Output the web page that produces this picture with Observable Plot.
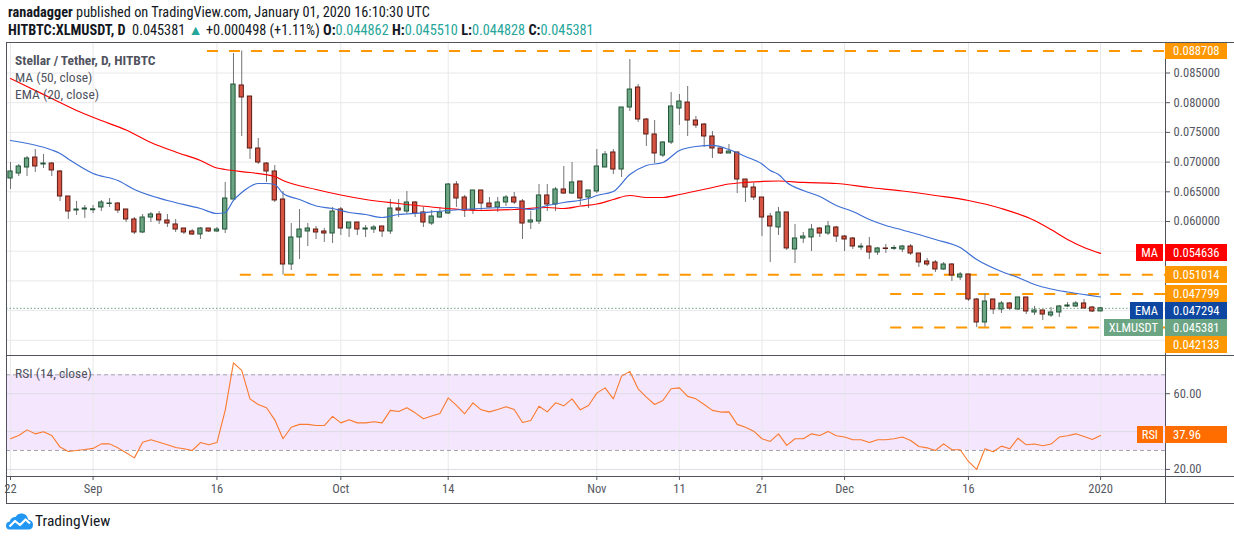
<!DOCTYPE html>
<html><head><meta charset="utf-8">
<script src="https://cdn.jsdelivr.net/npm/d3@7"></script>
<script src="https://cdn.jsdelivr.net/npm/@observablehq/plot@0.6"></script>
<style>
body{margin:0;background:#fff;}
#root{position:relative;width:1234px;height:540px;overflow:hidden;font-family:"Liberation Sans Narrow","Arial Narrow","Roboto Condensed","Liberation Sans",sans-serif;color:#131722;}
#root svg{position:absolute;left:0;}
.hdr{position:absolute;left:8px;font-size:14.3px;white-space:nowrap;line-height:16px;}
.hdr .v{color:#26a69a;}
.leg{position:absolute;left:15px;font-size:13.5px;color:#50535e;white-space:nowrap;line-height:16px;}
.vbox{position:absolute;left:1165px;width:62px;color:#fff;font-size:12.5px;box-sizing:border-box;padding-left:8px;white-space:nowrap;overflow:hidden;}
.nbox{position:absolute;right:71px;color:#fff;font-size:12.5px;padding:0 5px;white-space:nowrap;}
.fr{position:absolute;background:#50535e;}
</style></head><body><div id="root"></div>
<script>
const FONT = '"Liberation Sans Narrow","Arial Narrow","Roboto Condensed","Liberation Sans",sans-serif';

// ---- data ----
const firstDay = "2019-08-22", lastDay = "2020-01-01";
const opens = [0.06724,0.06808,0.06909,0.07077,0.06960,0.06976,0.06842,0.06421,0.06185,0.06202,
0.06190,0.06236,0.06295,0.06303,0.06202,0.06034,0.05815,0.06067,0.06118,0.06017,0.05950,0.05882,0.05832,0.05781,0.05882,0.05832,0.05865,0.06370,0.08290,0.08104,0.07229,0.06976,0.06842,0.06370,0.05276,0.05731,0.05832,0.05865,0.05832,0.05798,
0.06202,0.05882,0.05983,0.05865,0.05865,0.05916,0.05832,0.06219,0.06168,0.06320,0.06152,0.05966,0.06067,0.06135,0.06623,0.06404,0.06185,0.06522,0.06303,0.06236,0.06320,0.06404,0.06337,0.05983,0.06000,0.06438,0.06286,0.06539,0.06471,0.06673,0.06404,
0.06505,0.06909,0.07162,0.06875,0.07919,0.08256,0.07717,0.07465,0.07111,0.07330,0.07902,0.08003,0.07700,0.07633,0.07431,0.07229,0.07145,0.07162,0.06707,0.06572,0.06404,0.06084,0.05899,0.06152,0.05529,0.05714,0.05731,0.05882,0.05798,0.05899,
0.05747,0.05714,0.05562,0.05579,0.05478,0.05546,0.05540,0.05529,0.05579,0.05461,0.05327,0.05310,0.05192,0.05276,0.05057,0.05108,0.04687,0.04300,0.04687,0.04519,0.04620,0.04519,0.04721,0.04468,0.04502,0.04418,0.04468,0.04569,0.04569,0.04620,0.04552,
0.044862];
const highs = [0.06993,0.06960,0.07094,0.07212,0.07128,0.06993,0.06859,0.06421,0.06337,0.06269,
0.06269,0.06354,0.06387,0.06320,0.06202,0.06067,0.06118,0.06152,0.06168,0.06118,0.06034,0.05882,0.05865,0.05899,0.05882,0.05899,0.06657,0.08828,0.08871,0.08104,0.07397,0.06993,0.06943,0.06505,0.05966,0.06202,0.05966,0.05916,0.05882,0.06236,
0.06236,0.05983,0.05983,0.05933,0.05933,0.05916,0.06370,0.06370,0.06505,0.06337,0.06236,0.06185,0.06236,0.06640,0.06673,0.06438,0.06522,0.06522,0.06404,0.06404,0.06438,0.06488,0.06370,0.06168,0.06623,0.06623,0.06572,0.06926,0.06993,0.06673,0.06522,
0.07212,0.07178,0.07212,0.07919,0.08727,0.08306,0.07734,0.07700,0.07347,0.08172,0.08138,0.08273,0.07768,0.07650,0.07515,0.07229,0.07296,0.07162,0.06707,0.06640,0.06404,0.06135,0.06236,0.06152,0.05950,0.05815,0.05950,0.05899,0.06000,0.05916,
0.05764,0.05731,0.05630,0.05731,0.05562,0.05613,0.05596,0.05596,0.05613,0.05461,0.05377,0.05343,0.05310,0.05293,0.05141,0.05108,0.04704,0.04780,0.04687,0.04653,0.04636,0.04721,0.04721,0.04569,0.04502,0.04552,0.04586,0.04636,0.04653,0.04687,0.04569,
0.045510];
const lows = [0.06539,0.06758,0.06758,0.06825,0.06892,0.06758,0.06337,0.06034,0.06101,0.06051,
0.06135,0.06168,0.06236,0.06135,0.05983,0.05781,0.05798,0.05983,0.05950,0.05899,0.05815,0.05781,0.05764,0.05697,0.05815,0.05815,0.05798,0.06370,0.07431,0.07044,0.06960,0.06657,0.06320,0.05101,0.05175,0.05360,0.05579,0.05697,0.05647,0.05630,
0.05764,0.05731,0.05764,0.05731,0.05798,0.05731,0.05781,0.06067,0.06118,0.06067,0.05899,0.05933,0.06051,0.06118,0.06236,0.06067,0.06118,0.06168,0.06236,0.06152,0.06253,0.06286,0.05697,0.05865,0.05950,0.06168,0.06168,0.06455,0.06455,0.06269,0.06219,
0.06471,0.06909,0.06791,0.06741,0.07852,0.07667,0.07263,0.06976,0.07077,0.07296,0.07616,0.07431,0.07566,0.07246,0.07061,0.07128,0.07145,0.06471,0.06320,0.06354,0.05747,0.05310,0.05764,0.05512,0.05293,0.05630,0.05495,0.05731,0.05764,0.05647,
0.05495,0.05529,0.05512,0.05360,0.05428,0.05461,0.05512,0.05478,0.05428,0.05226,0.05242,0.05141,0.05175,0.04990,0.05007,0.04653,0.04213,0.04220,0.04434,0.04451,0.04502,0.04502,0.04434,0.04418,0.04333,0.04384,0.04384,0.04552,0.04552,0.04535,0.04468,
0.044828];
const closes = [0.06842,0.06926,0.07061,0.06926,0.06976,0.06859,0.06421,0.06168,0.06202,0.06219,
0.06205,0.06320,0.06303,0.06185,0.06034,0.05815,0.06067,0.06118,0.06017,0.05966,0.05865,0.05815,0.05781,0.05882,0.05832,0.05865,0.06387,0.08306,0.08088,0.07229,0.06993,0.06842,0.06354,0.05276,0.05731,0.05865,0.05882,0.05815,0.05798,0.06168,
0.05882,0.05983,0.05865,0.05882,0.05899,0.05832,0.06219,0.06185,0.06320,0.06135,0.05983,0.06084,0.06152,0.06623,0.06387,0.06185,0.06522,0.06303,0.06236,0.06320,0.06404,0.06320,0.05966,0.06017,0.06438,0.06286,0.06539,0.06471,0.06657,0.06387,0.06522,
0.06926,0.07128,0.06875,0.07919,0.08222,0.07717,0.07465,0.07145,0.07330,0.07936,0.08020,0.07700,0.07616,0.07431,0.07229,0.07145,0.07178,0.06707,0.06572,0.06404,0.06067,0.05916,0.06152,0.05546,0.05714,0.05747,0.05865,0.05798,0.05916,0.05747,
0.05697,0.05579,0.05579,0.05478,0.05546,0.05537,0.05554,0.05579,0.05461,0.05310,0.05276,0.05192,0.05276,0.05091,0.05108,0.04687,0.04300,0.04653,0.04519,0.04620,0.04535,0.04721,0.04485,0.04502,0.04434,0.04468,0.04569,0.04586,0.04620,0.04535,0.04485,
0.045381];
const rsiValues = [36.2,37.9,40.9,38.8,39.9,37.9,31.8,29.5,30.0,30.5,
31.1,33.5,33.5,31.4,28.8,26.1,34.4,35.7,34.4,33.0,31.6,30.9,30.0,34.2,33.0,34.2,51.2,76.3,72.3,57.3,54.3,52.6,46.2,36.2,42.3,43.8,43.8,43.2,43.2,48.0,
44.6,46.2,44.6,44.6,45.2,44.6,51.2,50.6,52.6,49.9,46.8,48.2,49.6,57.8,53.8,49.4,55.2,51.5,50.4,51.7,53.1,51.7,44.8,45.9,53.4,50.4,55.2,53.6,57.3,51.5,53.8,
60.3,63.1,57.3,69.3,71.8,62.6,58.2,54.3,56.4,62.6,63.1,58.6,57.3,54.3,51.2,50.3,50.4,43.8,42.3,40.2,36.2,34.8,38.8,32.7,36.2,36.2,38.8,37.9,40.1,37.8,
37.1,35.7,35.7,34.2,35.7,35.7,36.2,37.1,35.3,32.1,31.4,30.0,33.5,30.4,30.4,24.2,20.0,30.9,29.3,32.3,30.9,36.5,33.0,33.4,32.5,33.4,37.1,37.8,38.8,37.4,35.8,
37.96];
const maDates = ["2019-08-22","2019-08-24","2019-08-27","2019-08-30","2019-09-02","2019-09-05","2019-09-08","2019-09-11","2019-09-14","2019-09-16","2019-09-17","2019-09-20","2019-09-23","2019-09-24","2019-09-28","2019-10-01","2019-10-04","2019-10-08","2019-10-14","2019-10-18","2019-10-22","2019-10-26","2019-10-28","2019-10-30","2019-11-01","2019-11-03","2019-11-05","2019-11-07","2019-11-09","2019-11-11","2019-11-15","2019-11-17","2019-11-19","2019-11-23","2019-11-26","2019-11-30","2019-12-04","2019-12-08","2019-12-12","2019-12-16","2019-12-20","2019-12-24","2019-12-26","2019-12-28","2019-12-30","2020-01-01"];
const maValues = [0.08407,0.08273,0.08071,0.07869,0.07700,0.07540,0.07330,0.07170,0.07027,0.06901,0.06875,0.06825,0.06758,0.06690,0.06539,0.06446,0.06370,0.06303,0.06219,0.06185,0.06202,0.06236,0.06219,0.06261,0.06295,0.06370,0.06438,0.06404,0.06404,0.06455,0.06572,0.06631,0.06657,0.06682,0.06657,0.06640,0.06572,0.06513,0.06438,0.06354,0.06219,0.06017,0.05865,0.05697,0.05562,0.054636];
const emaDates = ["2019-08-22","2019-08-27","2019-08-28","2019-08-29","2019-09-01","2019-09-04","2019-09-06","2019-09-10","2019-09-14","2019-09-16","2019-09-17","2019-09-18","2019-09-19","2019-09-21","2019-09-22","2019-09-23","2019-09-24","2019-09-26","2019-09-28","2019-09-30","2019-10-02","2019-10-04","2019-10-06","2019-10-08","2019-10-09","2019-10-14","2019-10-18","2019-10-22","2019-10-24","2019-10-26","2019-10-28","2019-10-31","2019-11-01","2019-11-03","2019-11-05","2019-11-07","2019-11-09","2019-11-11","2019-11-13","2019-11-15","2019-11-17","2019-11-19","2019-11-21","2019-11-22","2019-11-23","2019-11-24","2019-11-26","2019-11-28","2019-11-30","2019-12-02","2019-12-04","2019-12-06","2019-12-08","2019-12-10","2019-12-12","2019-12-15","2019-12-17","2019-12-20","2019-12-22","2019-12-24","2019-12-26","2019-12-28","2019-12-30","2020-01-01"];
const emaValues = [0.07364,0.07204,0.07145,0.07052,0.06808,0.06690,0.06539,0.06354,0.06219,0.06135,0.06152,0.06354,0.06488,0.06640,0.06640,0.06623,0.06471,0.06370,0.06261,0.06219,0.06152,0.06118,0.06067,0.06118,0.06126,0.06185,0.06219,0.06236,0.06202,0.06269,0.06320,0.06387,0.06438,0.06505,0.06791,0.06943,0.06993,0.07195,0.07263,0.07280,0.07212,0.07094,0.06968,0.06859,0.06791,0.06657,0.06522,0.06421,0.06269,0.06168,0.06034,0.05933,0.05857,0.05781,0.05697,0.05562,0.05360,0.05158,0.05057,0.04939,0.04864,0.04813,0.04771,0.047294];
const levelPrices = [0.088708, 0.051014, 0.047799, 0.042133];
const levelStarts = ["2019-09-15T08:30Z", "2019-09-19T08:00Z", "2019-12-07T02:00Z", "2019-12-07T02:00Z"];
const priceGrid = [0.040, 0.045, 0.050, 0.055, 0.060, 0.065, 0.070, 0.075, 0.080, 0.085];
const priceTickLabels = [0.060, 0.065, 0.070, 0.075, 0.080, 0.085];
const rsiGrid = [20, 40, 60];
const rsiTickLabels = [20, 60];
const rsiBand = [30, 70];
const tickDays = ["2019-08-22","2019-09-01","2019-09-16","2019-10-01","2019-10-14","2019-11-01","2019-11-11","2019-11-21","2019-12-01","2019-12-16","2020-01-01"];
const tickLabels = ["22","Sep","16","Oct","14","Nov","11","21","Dec","16","2020"];
const labelValues = [0.088708, 0.054636, 0.051014, 0.047799, 0.047294, 0.045381, 0.042133];
const labelNames = ["", "MA", "", "", "EMA", "XLMUSDT", ""];
const labelColors = ["#ff9800", "#ff0000", "#ff9800", "#ff9800", "#0d47a1", "#6ba583", "#ff9800"];
const rsiLast = 37.96;

// ---- build ----
const noon = s => new Date(s + "T12:00:00Z");
const days = d3.utcDay.range(new Date(firstDay + "T00:00:00Z"), d3.utcDay.offset(new Date(lastDay + "T00:00:00Z"), 1)).map(d => d3.utcHour.offset(d, 12));
const rows = days.map((date, i) => ({date, open: opens[i], high: highs[i], low: lows[i], close: closes[i], rsi: rsiValues[i]}));
const up = rows.filter(d => d.close >= d.open), down = rows.filter(d => d.close < d.open);
const maRows = maDates.map((s, i) => ({date: noon(s), value: maValues[i]}));
const emaRows = emaDates.map((s, i) => ({date: noon(s), value: emaValues[i]}));
const tickDates = tickDays.map(noon);
const tickMap = new Map(tickDates.map((d, i) => [+d, tickLabels[i]]));
const xDomain = [new Date("2019-08-22T00:22:00Z"), new Date("2020-01-09T08:44:00Z")];
const levelRows = levelPrices.map((p, i) => ({price: p, start: new Date(levelStarts[i]), end: xDomain[1]}));
const grid = "#e8e8eb";
const axisColor = "#555862";

const root = document.getElementById("root");

const main = Plot.plot({
  width: 1234, height: 313, marginLeft: 6, marginRight: 69, marginTop: 0, marginBottom: 0,
  style: {fontFamily: FONT, fontSize: "12.5px", background: "transparent"},
  x: {type: "utc", domain: xDomain, axis: null},
  y: {domain: [0.03744, 0.090135], axis: null},
  marks: [
    Plot.ruleX(tickDates, {stroke: grid}),
    Plot.ruleY(priceGrid, {stroke: grid}),
    Plot.axisY(priceTickLabels, {anchor: "right", tickSize: 4, tickPadding: 4, tickFormat: d3.format(".6f"), color: axisColor, label: null, fontSize: 12.5}),
    Plot.ruleY(levelRows, {y: "price", x1: "start", x2: "end", stroke: "#ff9800", strokeWidth: 2, strokeDasharray: "11,11"}),
    Plot.ruleY([closes[closes.length - 1]], {stroke: "#6ba583", strokeDasharray: "1.5,2"}),
    Plot.ruleX(rows, {x: "date", y1: "low", y2: "high", stroke: "#737375", strokeWidth: 1}),
    Plot.rectY(up, {x: "date", interval: d3.utcDay, y1: "open", y2: "close", fill: "#6ba583", stroke: "#225437", strokeWidth: 1, insetLeft: 2, insetRight: 2}),
    Plot.rectY(down, {x: "date", interval: d3.utcDay, y1: "open", y2: "close", fill: "#d75442", stroke: "#5b1a13", strokeWidth: 1, insetLeft: 2, insetRight: 2}),
    Plot.line(maRows, {x: "date", y: "value", stroke: "#ff0000", strokeWidth: 1.2, curve: "monotone-x"}),
    Plot.line(emaRows, {x: "date", y: "value", stroke: "#3d6fd4", strokeWidth: 1.2, curve: "monotone-x"})
  ]
});
main.style.top = "42px";
root.appendChild(main);

const rsiChart = Plot.plot({
  width: 1234, height: 148, marginLeft: 6, marginRight: 69, marginTop: 0, marginBottom: 27,
  style: {fontFamily: FONT, fontSize: "12.5px", background: "transparent"},
  x: {type: "utc", domain: xDomain, axis: null},
  y: {domain: [16.26, 80.2], axis: null},
  marks: [
    Plot.rect([rsiBand], {x1: () => xDomain[0], x2: () => xDomain[1], y1: d => d[0], y2: d => d[1], fill: "#f3e6fd"}),
    Plot.ruleX(tickDates, {stroke: grid}),
    Plot.ruleY(rsiGrid, {stroke: "#dedbe6"}),
    Plot.ruleY(rsiBand, {stroke: "#a3a3ad", strokeDasharray: "4,3"}),
    Plot.line(rows, {x: "date", y: "rsi", stroke: "#fb7a2e", strokeWidth: 1.1}),
    Plot.axisY(rsiTickLabels, {anchor: "right", tickSize: 4, tickPadding: 4, tickFormat: d3.format(".2f"), color: axisColor, label: null, fontSize: 12.5}),
    Plot.axisX(tickDates, {anchor: "bottom", tickSize: 4, tickPadding: 4, tickFormat: d => tickMap.get(+d), color: axisColor, label: null, fontSize: 12.5})
  ]
});
rsiChart.style.top = "355px";
root.appendChild(rsiChart);

// ---- frame ----
function frame(l, t, w, h) { const d = document.createElement("div"); d.className = "fr"; Object.assign(d.style, {left: l + "px", top: t + "px", width: w + "px", height: h + "px"}); root.appendChild(d); }
frame(6, 42, 1, 461); frame(1165, 42, 1, 461);
frame(6, 42, 1228, 1); frame(6, 355, 1228, 1); frame(6, 476, 1228, 1); frame(6, 503, 1228, 1);

// ---- header & legends ----
function html(cls, top, content, extra) { const d = document.createElement("div"); d.className = cls; d.style.top = top + "px"; d.innerHTML = content; if (extra) Object.assign(d.style, extra); root.appendChild(d); return d; }
html("hdr", 4, "<b>ranadagger</b> published on TradingView.com, January 01, 2020 16:10:30 UTC");
html("hdr", 22, "<b>HITBTC:XLMUSDT, D</b>&nbsp; 0.045381 <span class='v'>▲</span> +0.000498 (+1.11%) <b>O:</b><span class='v'>0.044862</span> <b>H:</b><span class='v'>0.045510</span> <b>L:</b><span class='v'>0.044828</span> <b>C:</b><span class='v'>0.045381</span>");
html("leg", 52, "Stellar / Tether, D, HITBTC", {fontWeight: "bold"});
html("leg", 69, "MA (50, close)");
html("leg", 86, "EMA (20, close)");
html("leg", 365, "RSI (14, close)");

// ---- price labels on the right axis ----
const ys = main.scale("y");
const H = 17;
const boxes = labelValues.map((v, i) => ({v, name: labelNames[i], color: labelColors[i], c: 42 + ys.apply(v)})).sort((a, b) => a.c - b.c);
for (let i = 1; i < boxes.length; i++) if (boxes[i].c < boxes[i - 1].c + H) boxes[i].c = boxes[i - 1].c + H;
function box(b, text) {
  let top = b.c - H / 2, h = H;
  if (top < 43) { h = top + H - 43; top = 43; }
  const v = document.createElement("div"); v.className = "vbox";
  Object.assign(v.style, {top: top + "px", height: h + "px", lineHeight: h + "px", background: b.color});
  v.textContent = text; root.appendChild(v);
  if (b.name) {
    const n = document.createElement("div"); n.className = "nbox";
    Object.assign(n.style, {top: top + "px", height: h + "px", lineHeight: h + "px", background: b.color});
    n.textContent = b.name; root.appendChild(n);
  }
}
boxes.forEach(b => box(b, d3.format(".6f")(b.v)));
const rs = rsiChart.scale("y");
box({c: 355 + rs.apply(rsiLast), name: "RSI", color: "#ff6d00"}, d3.format(".2f")(rsiLast));

// ---- TradingView logo ----
const logo = document.createElement("div");
Object.assign(logo.style, {position: "absolute", left: "6px", top: "512px", display: "flex", alignItems: "center", fontSize: "15.5px", color: "#131722", fontFamily: FONT});
logo.innerHTML = '<svg width="27" height="18" viewBox="0 0 27 18" style="position:static"><path d="M3.5 17.5 Q0 17.5 0 13.8 Q0 10 3.8 9.6 Q4.8 5 9.5 5 Q12 1 16.5 1.6 Q21.5 2.4 22 7.6 Q27 8.4 27 12.8 Q27 17.5 22.5 17.5 Z" fill="#2196f3"/><polyline points="3.5,14.5 9,9 14,13 19.5,7.5 24,11.5" stroke="#fff" stroke-width="2.2" fill="none" stroke-linejoin="round"/></svg><span style="margin-left:2px">TradingView</span>';
root.appendChild(logo);
</script></body></html>
